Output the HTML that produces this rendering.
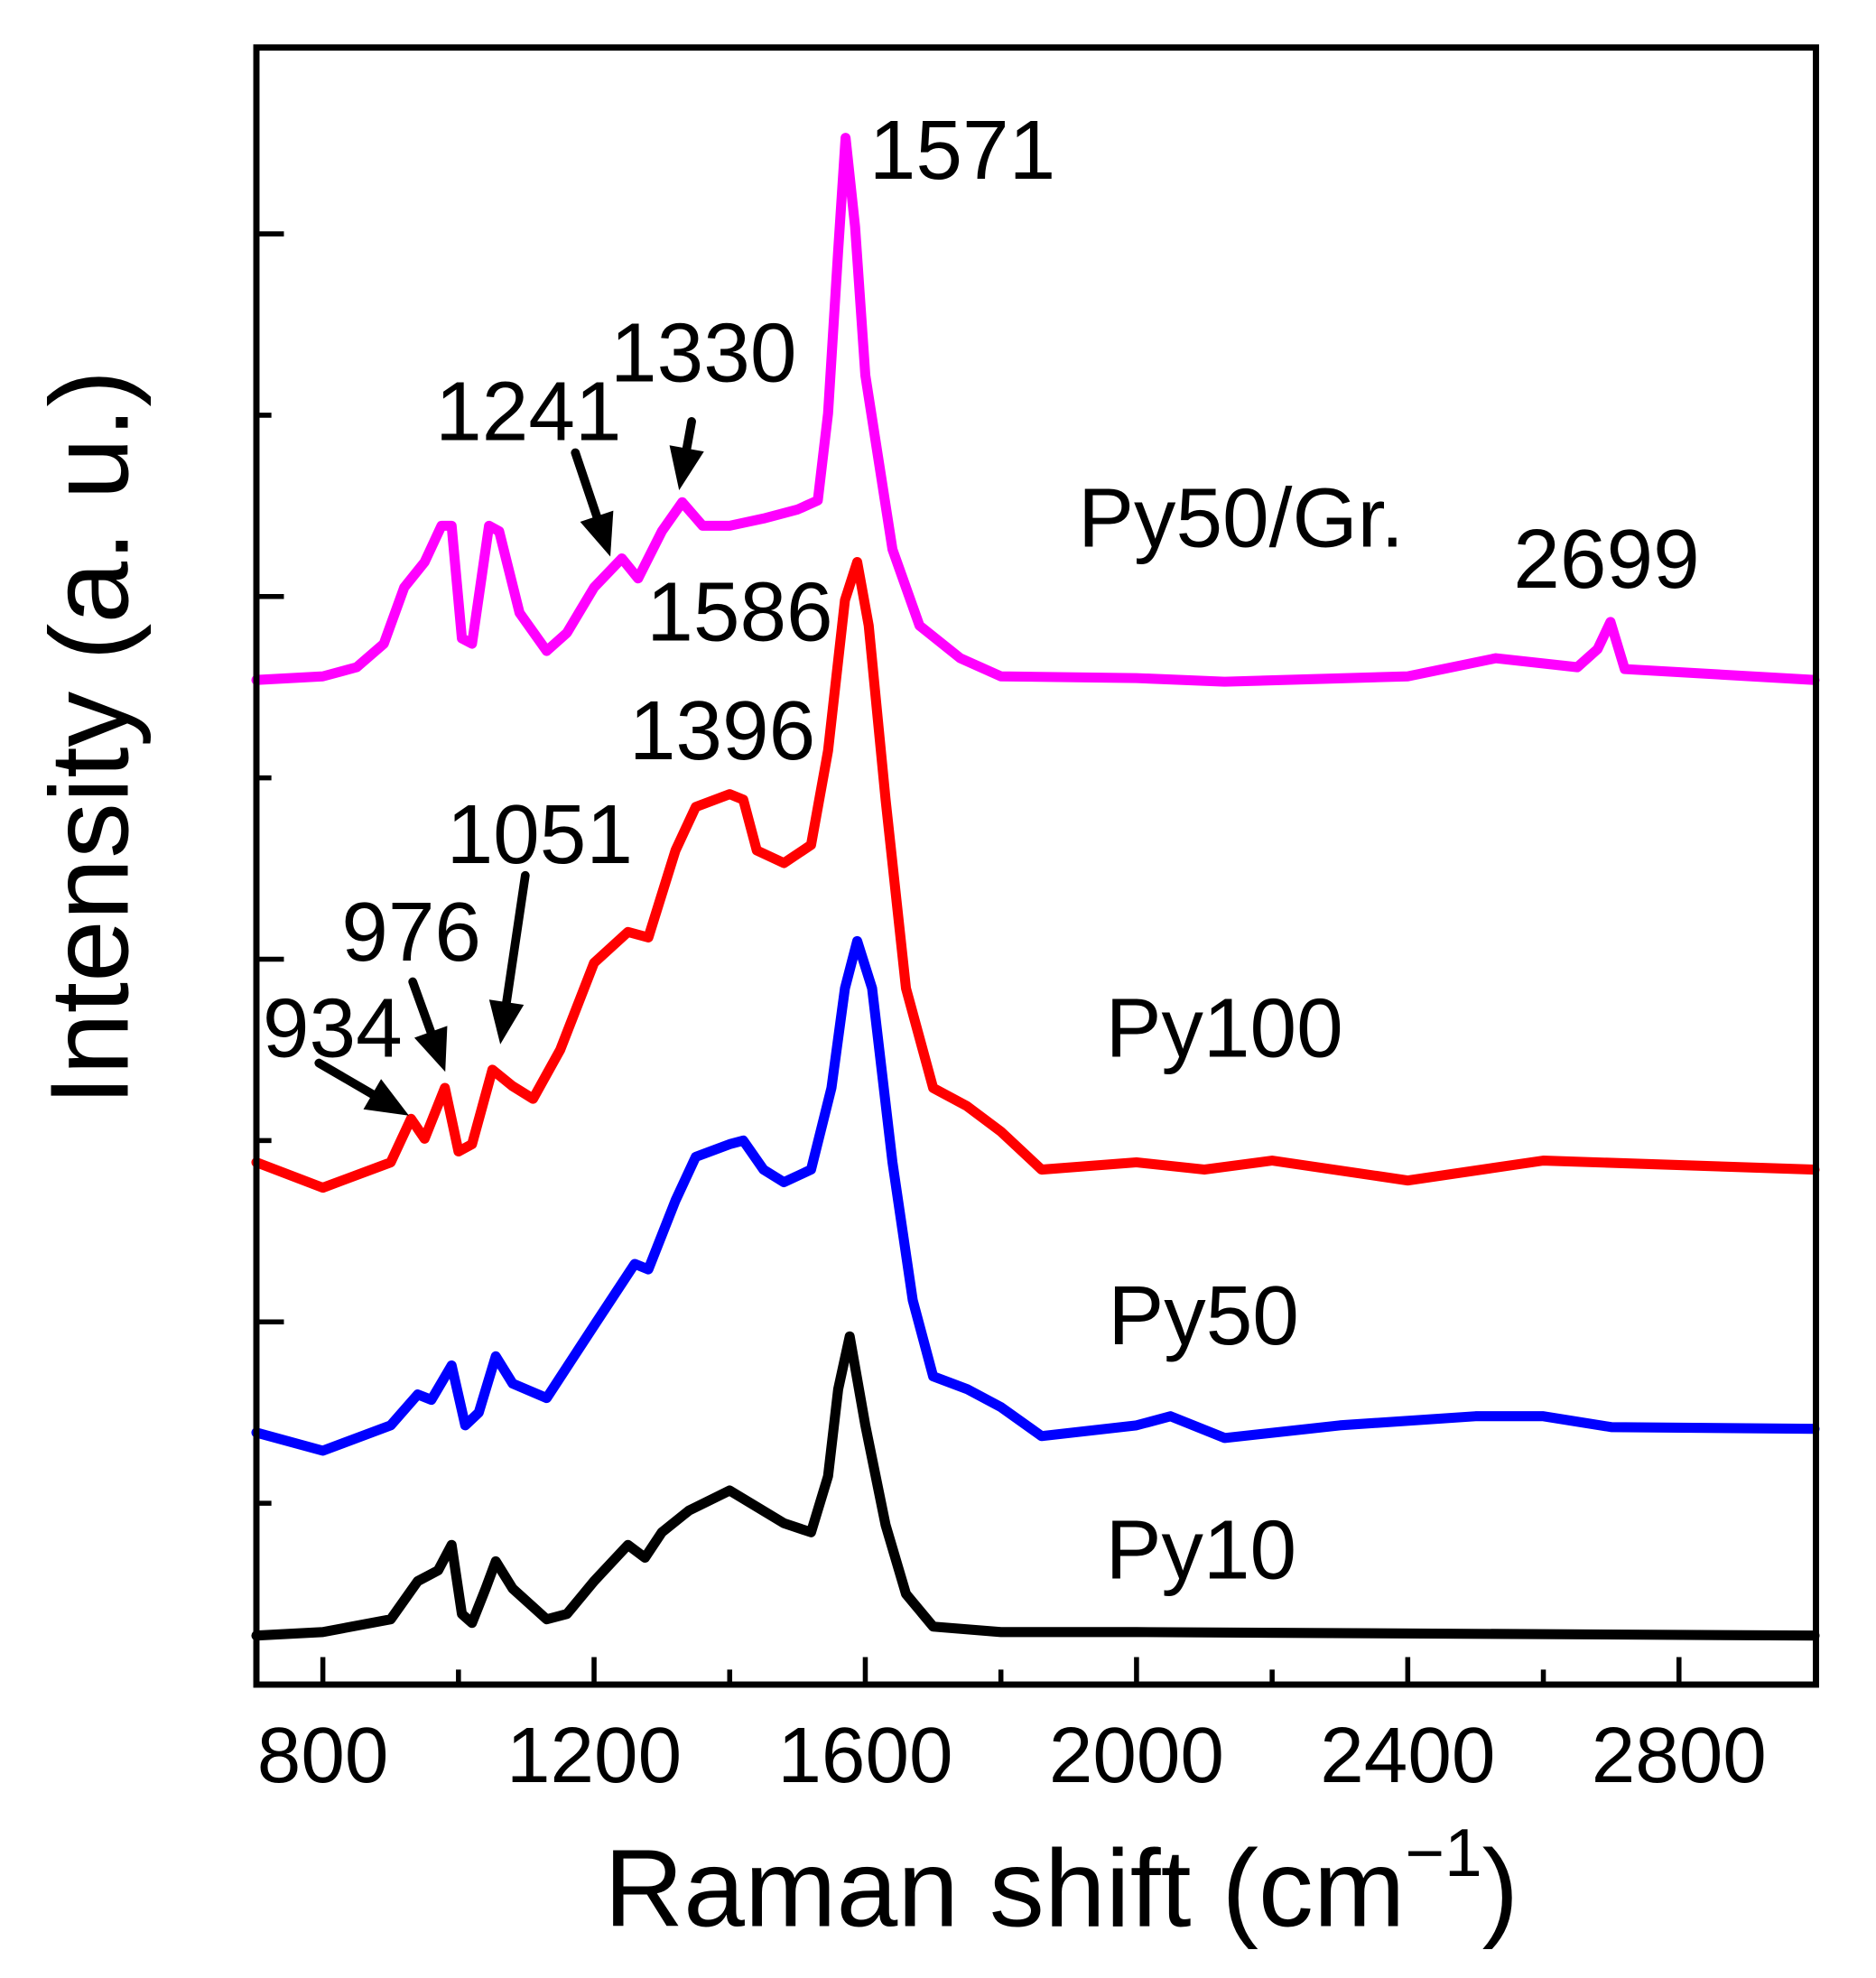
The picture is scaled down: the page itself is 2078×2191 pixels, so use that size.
<!DOCTYPE html>
<html><head><meta charset="utf-8"><style>
html,body{margin:0;padding:0;background:#fff}
svg{display:block}
text{font-family:"Liberation Sans",Arial,sans-serif;fill:#000}
</style></head><body>
<svg id="chart" width="2078" height="2191" viewBox="0 0 1500 1581.6" xmlns="http://www.w3.org/2000/svg">
<g id="plot"></g>
</svg>
<script>
const xTicksMajor=[800,1200,1600,2000,2400,2800];
const xTicksMinor=[1000,1400,1800,2200,2600];
const yTicksMajor=[2,4,6,8];
const yTicksMinor=[1,3,5,7];
const py10X=[702,800,900,940,970,990,1005,1020,1040,1055,1080,1130,1160,1200,1250,1275,1300,1340,1400,1440,1480,1520,1545,1560,1577,1600,1630,1660,1700,1800,2000,3000];
const py10Y=[0.27,0.29,0.36,0.57,0.63,0.77,0.39,0.34,0.53,0.68,0.53,0.36,0.39,0.57,0.77,0.70,0.84,0.96,1.07,0.98,0.89,0.84,1.15,1.63,1.92,1.43,0.88,0.50,0.32,0.29,0.29,0.27];
const py50X=[702,800,900,940,960,990,1010,1030,1055,1080,1130,1200,1260,1280,1320,1350,1400,1420,1450,1480,1520,1550,1570,1588,1610,1640,1670,1700,1750,1800,1860,2000,2050,2130,2300,2500,2600,2700,3000];
const py50Y=[1.39,1.29,1.43,1.60,1.57,1.76,1.43,1.50,1.81,1.66,1.58,1.98,2.32,2.29,2.67,2.91,2.98,3.00,2.84,2.77,2.84,3.29,3.84,4.10,3.84,2.88,2.12,1.70,1.63,1.53,1.37,1.43,1.48,1.36,1.43,1.48,1.48,1.42,1.41];
const py100X=[702,800,900,930,950,980,1000,1020,1050,1080,1110,1150,1200,1250,1280,1320,1350,1400,1420,1440,1480,1520,1545,1570,1588,1605,1630,1660,1700,1750,1800,1860,2000,2100,2200,2400,2600,3000];
const py100Y=[2.88,2.74,2.88,3.12,3.01,3.29,2.94,2.98,3.39,3.30,3.23,3.50,3.98,4.15,4.12,4.60,4.84,4.91,4.88,4.60,4.53,4.63,5.15,5.98,6.19,5.84,4.88,3.84,3.29,3.19,3.05,2.84,2.88,2.84,2.89,2.78,2.89,2.84];
const grX=[702,800,850,890,920,950,975,990,1005,1020,1045,1060,1090,1130,1160,1200,1241,1265,1300,1330,1360,1400,1450,1500,1530,1545,1560,1571,1585,1600,1640,1680,1740,1800,2000,2130,2400,2530,2650,2680,2699,2720,3000];
const grY=[5.54,5.56,5.61,5.74,6.05,6.19,6.39,6.39,5.77,5.74,6.39,6.36,5.91,5.70,5.80,6.05,6.21,6.10,6.36,6.52,6.39,6.39,6.43,6.48,6.53,7.01,7.91,8.53,8.04,7.22,6.26,5.84,5.66,5.56,5.55,5.53,5.56,5.66,5.61,5.71,5.86,5.60,5.54];

const L=205,R=1452,T=38,B=1347;
const X0=702,X1=3002,Y0=0,Y1=(B-T)/145;
const sx=v=>L+(v-X0)/(X1-X0)*(R-L);
const sy=v=>B-(v-Y0)/(Y1-Y0)*(B-T);
const NS='http://www.w3.org/2000/svg';
const g=document.getElementById('plot');
function mk(tag,attrs){const e=document.createElementNS(NS,tag);for(const k in attrs)e.setAttribute(k,attrs[k]);g.appendChild(e);return e;}

function series(xs,ys,color,name){
  const d=xs.map((x,i)=>(i?'L':'M')+sx(x).toFixed(1)+' '+sy(ys[i]).toFixed(1)).join(' ');
  const p=mk('path',{d:d,fill:'none',stroke:color,'stroke-width':8,'stroke-linejoin':'round','stroke-linecap':'round'});
  
  
}
series(py10X,py10Y,'#000','series-py10');
series(py50X,py50Y,'#0000ff','series-py50');
series(py100X,py100Y,'#ff0000','series-py100');
series(grX,grY,'#ff00ff','series-py50-gr');

const fr=mk('rect',{x:L,y:T,width:R-L,height:B-T,fill:'none',stroke:'#000','stroke-width':5});


xTicksMajor.forEach(v=>{
  const t=mk('line',{x1:sx(v),x2:sx(v),y1:B,y2:B-22,stroke:'#000','stroke-width':4});
  
  
  const lb=mk('text',{x:sx(v),y:1425,'font-size':63,'text-anchor':'middle'});
  lb.textContent=v;
  
  
});
xTicksMinor.forEach(v=>{
  const t=mk('line',{x1:sx(v),x2:sx(v),y1:B,y2:B-12,stroke:'#000','stroke-width':4});
  
  
});
yTicksMajor.forEach(v=>{
  const t=mk('line',{x1:L,x2:L+22,y1:sy(v),y2:sy(v),stroke:'#000','stroke-width':4});
  
  
});
yTicksMinor.forEach(v=>{
  const t=mk('line',{x1:L,x2:L+12,y1:sy(v),y2:sy(v),stroke:'#000','stroke-width':4});
  
  
});
</script>
<script>
(function(){
const NS='http://www.w3.org/2000/svg';
const g=document.getElementById('plot');
const labels=[["1571",695,143,"peak-label-1571"],["1330",488,305,"peak-label-1330"],["1241",348,352,"peak-label-1241"],["Py50/Gr.",862,437,"series-label-py50-gr"],["2699",1210,470,"peak-label-2699"],["1586",517,512,"peak-label-1586"],["1396",503,607,"peak-label-1396"],["1051",357,690,"peak-label-1051"],["976",273,768,"peak-label-976"],["934",210,845,"peak-label-934"],["Py100",884,845,"series-label-py100"],["Py50",886,1075,"series-label-py50"],["Py10",884,1262,"series-label-py10"]];
labels.forEach(l=>{
  const t=document.createElementNS(NS,'text');
  t.setAttribute('x',l[1]);t.setAttribute('y',l[2]);t.setAttribute('font-size',67);
  t.textContent=l[0];
  
  
  g.appendChild(t);
});
const arrows=[[553,337,543,392,"arrow-1330"],[460,362,488,445,"arrow-1241"],[420,700,400,835,"arrow-1051"],[330,785,356,857,"arrow-976"],[255,850,327,892,"arrow-934"]];
arrows.forEach(a=>{
  const [x1,y1,x2,y2]=a;const dx=x2-x1,dy=y2-y1,len=Math.hypot(dx,dy),ux=dx/len,uy=dy/len;
  const hl=34,hw=14,bx=x2-ux*hl,by=y2-uy*hl;
  const grp=document.createElementNS(NS,'g');
  
  
  const ln=document.createElementNS(NS,'line');
  ln.setAttribute('x1',x1);ln.setAttribute('y1',y1);ln.setAttribute('x2',bx);ln.setAttribute('y2',by);
  ln.setAttribute('stroke','#000');ln.setAttribute('stroke-width',7);ln.setAttribute('stroke-linecap','round');
  const pg=document.createElementNS(NS,'polygon');
  pg.setAttribute('points',`${x2},${y2} ${bx-uy*hw},${by+ux*hw} ${bx+uy*hw},${by-ux*hw}`);
  grp.appendChild(ln);grp.appendChild(pg);g.appendChild(grp);
});
const xt=document.createElementNS(NS,'text');
xt.setAttribute('x',483);xt.setAttribute('y',1540);xt.setAttribute('font-size',88);
xt.innerHTML='Raman shift (cm<tspan font-size="54" dy="-40">−1</tspan><tspan dy="40">)</tspan>';


g.appendChild(xt);
const yt=document.createElementNS(NS,'text');
yt.setAttribute('transform','translate(102,590) rotate(-90)');yt.setAttribute('font-size',89);yt.setAttribute('text-anchor','middle');
yt.textContent='Intensity (a. u.)';


g.appendChild(yt);
})();
</script>
</body></html>
